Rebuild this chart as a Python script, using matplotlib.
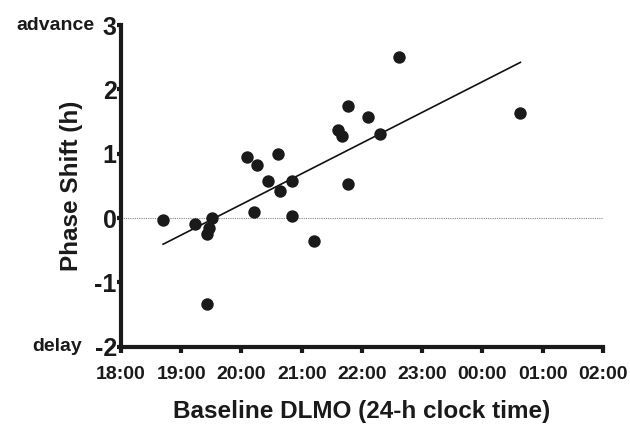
"""Phase shift vs baseline DLMO scatter with regression line"""

import numpy as np
import matplotlib
matplotlib.use("Agg")
import matplotlib.pyplot as plt

# baseline DLMO in hours (values past midnight continue as 24+)
dlmo = [18.70, 19.23, 19.43, 19.46, 19.51, 19.43, 20.21, 20.84, 21.21,
        20.09, 20.26, 20.61, 20.44, 20.64, 20.84, 22.62, 21.77, 22.10,
        21.61, 21.67, 22.30, 21.77, 24.63]
shift = [-0.03, -0.09, -0.25, -0.15, 0.00, -1.34, 0.10, 0.03, -0.36,
         0.95, 0.82, 0.99, 0.57, 0.42, 0.57, 2.50, 1.74, 1.57,
         1.37, 1.27, 1.30, 0.53, 1.63]

xticks = [18, 19, 20, 21, 22, 23, 24, 25, 26]
xticklabels = ["18:00", "19:00", "20:00", "21:00", "22:00", "23:00",
               "00:00", "01:00", "02:00"]
yticks = [-2, -1, 0, 1, 2, 3]

plt.rcParams["font.family"] = ["Liberation Sans", "DejaVu Sans"]
plt.rcParams["font.weight"] = "bold"
plt.rcParams["axes.unicode_minus"] = False

fig = plt.figure(figsize=(6.3, 4.24), dpi=100)
ax = fig.add_axes([0.192, 0.182, 0.765, 0.759])

x = np.array(dlmo)
y = np.array(shift)

# zero reference line
ax.axhline(0, color="#888888", lw=0.8, ls=(0, (1, 1)), zorder=1)

# linear fit
slope, intercept = np.polyfit(x, y, 1)
xf = np.array([x.min(), x.max()])
ax.plot(xf, slope * xf + intercept, color="#111111", lw=1.2, zorder=2)

ax.scatter(x, y, s=80, color="#1a1a1a", zorder=3, linewidths=0)

ax.set_xlim(18, 26)
ax.set_ylim(-2, 3)
ax.set_xticks(xticks)
ax.set_xticklabels(xticklabels)
ax.set_yticks(yticks)

for side in ["top", "right"]:
    ax.spines[side].set_visible(False)
for side in ["left", "bottom"]:
    ax.spines[side].set_linewidth(3)
    ax.spines[side].set_color("#1a1a1a")
    ax.spines[side].set_capstyle("projecting")

ax.tick_params(axis="x", direction="out", length=4, width=3, color="#1a1a1a",
               labelsize=14, pad=10)
ax.tick_params(axis="y", direction="out", length=3, width=3, color="#1a1a1a",
               labelsize=18, pad=0)
for lbl in ax.get_xticklabels() + ax.get_yticklabels():
    lbl.set_fontweight("bold")
    lbl.set_color("#1a1a1a")

ax.set_xlabel("Baseline DLMO (24-h clock time)", fontsize=17.5,
              fontweight="bold", labelpad=12, color="#1a1a1a")
ax.set_ylabel("Phase Shift (h)", fontsize=17.5, fontweight="bold",
              labelpad=8, color="#1a1a1a")

ax.text(-0.054, 3, "advance", transform=ax.get_yaxis_transform(),
        ha="right", va="center", fontsize=14, fontweight="bold",
        color="#1a1a1a")
ax.text(-0.081, -2, "delay", transform=ax.get_yaxis_transform(),
        ha="right", va="center", fontsize=14, fontweight="bold",
        color="#1a1a1a")

fig.savefig("out.png", dpi=100)
